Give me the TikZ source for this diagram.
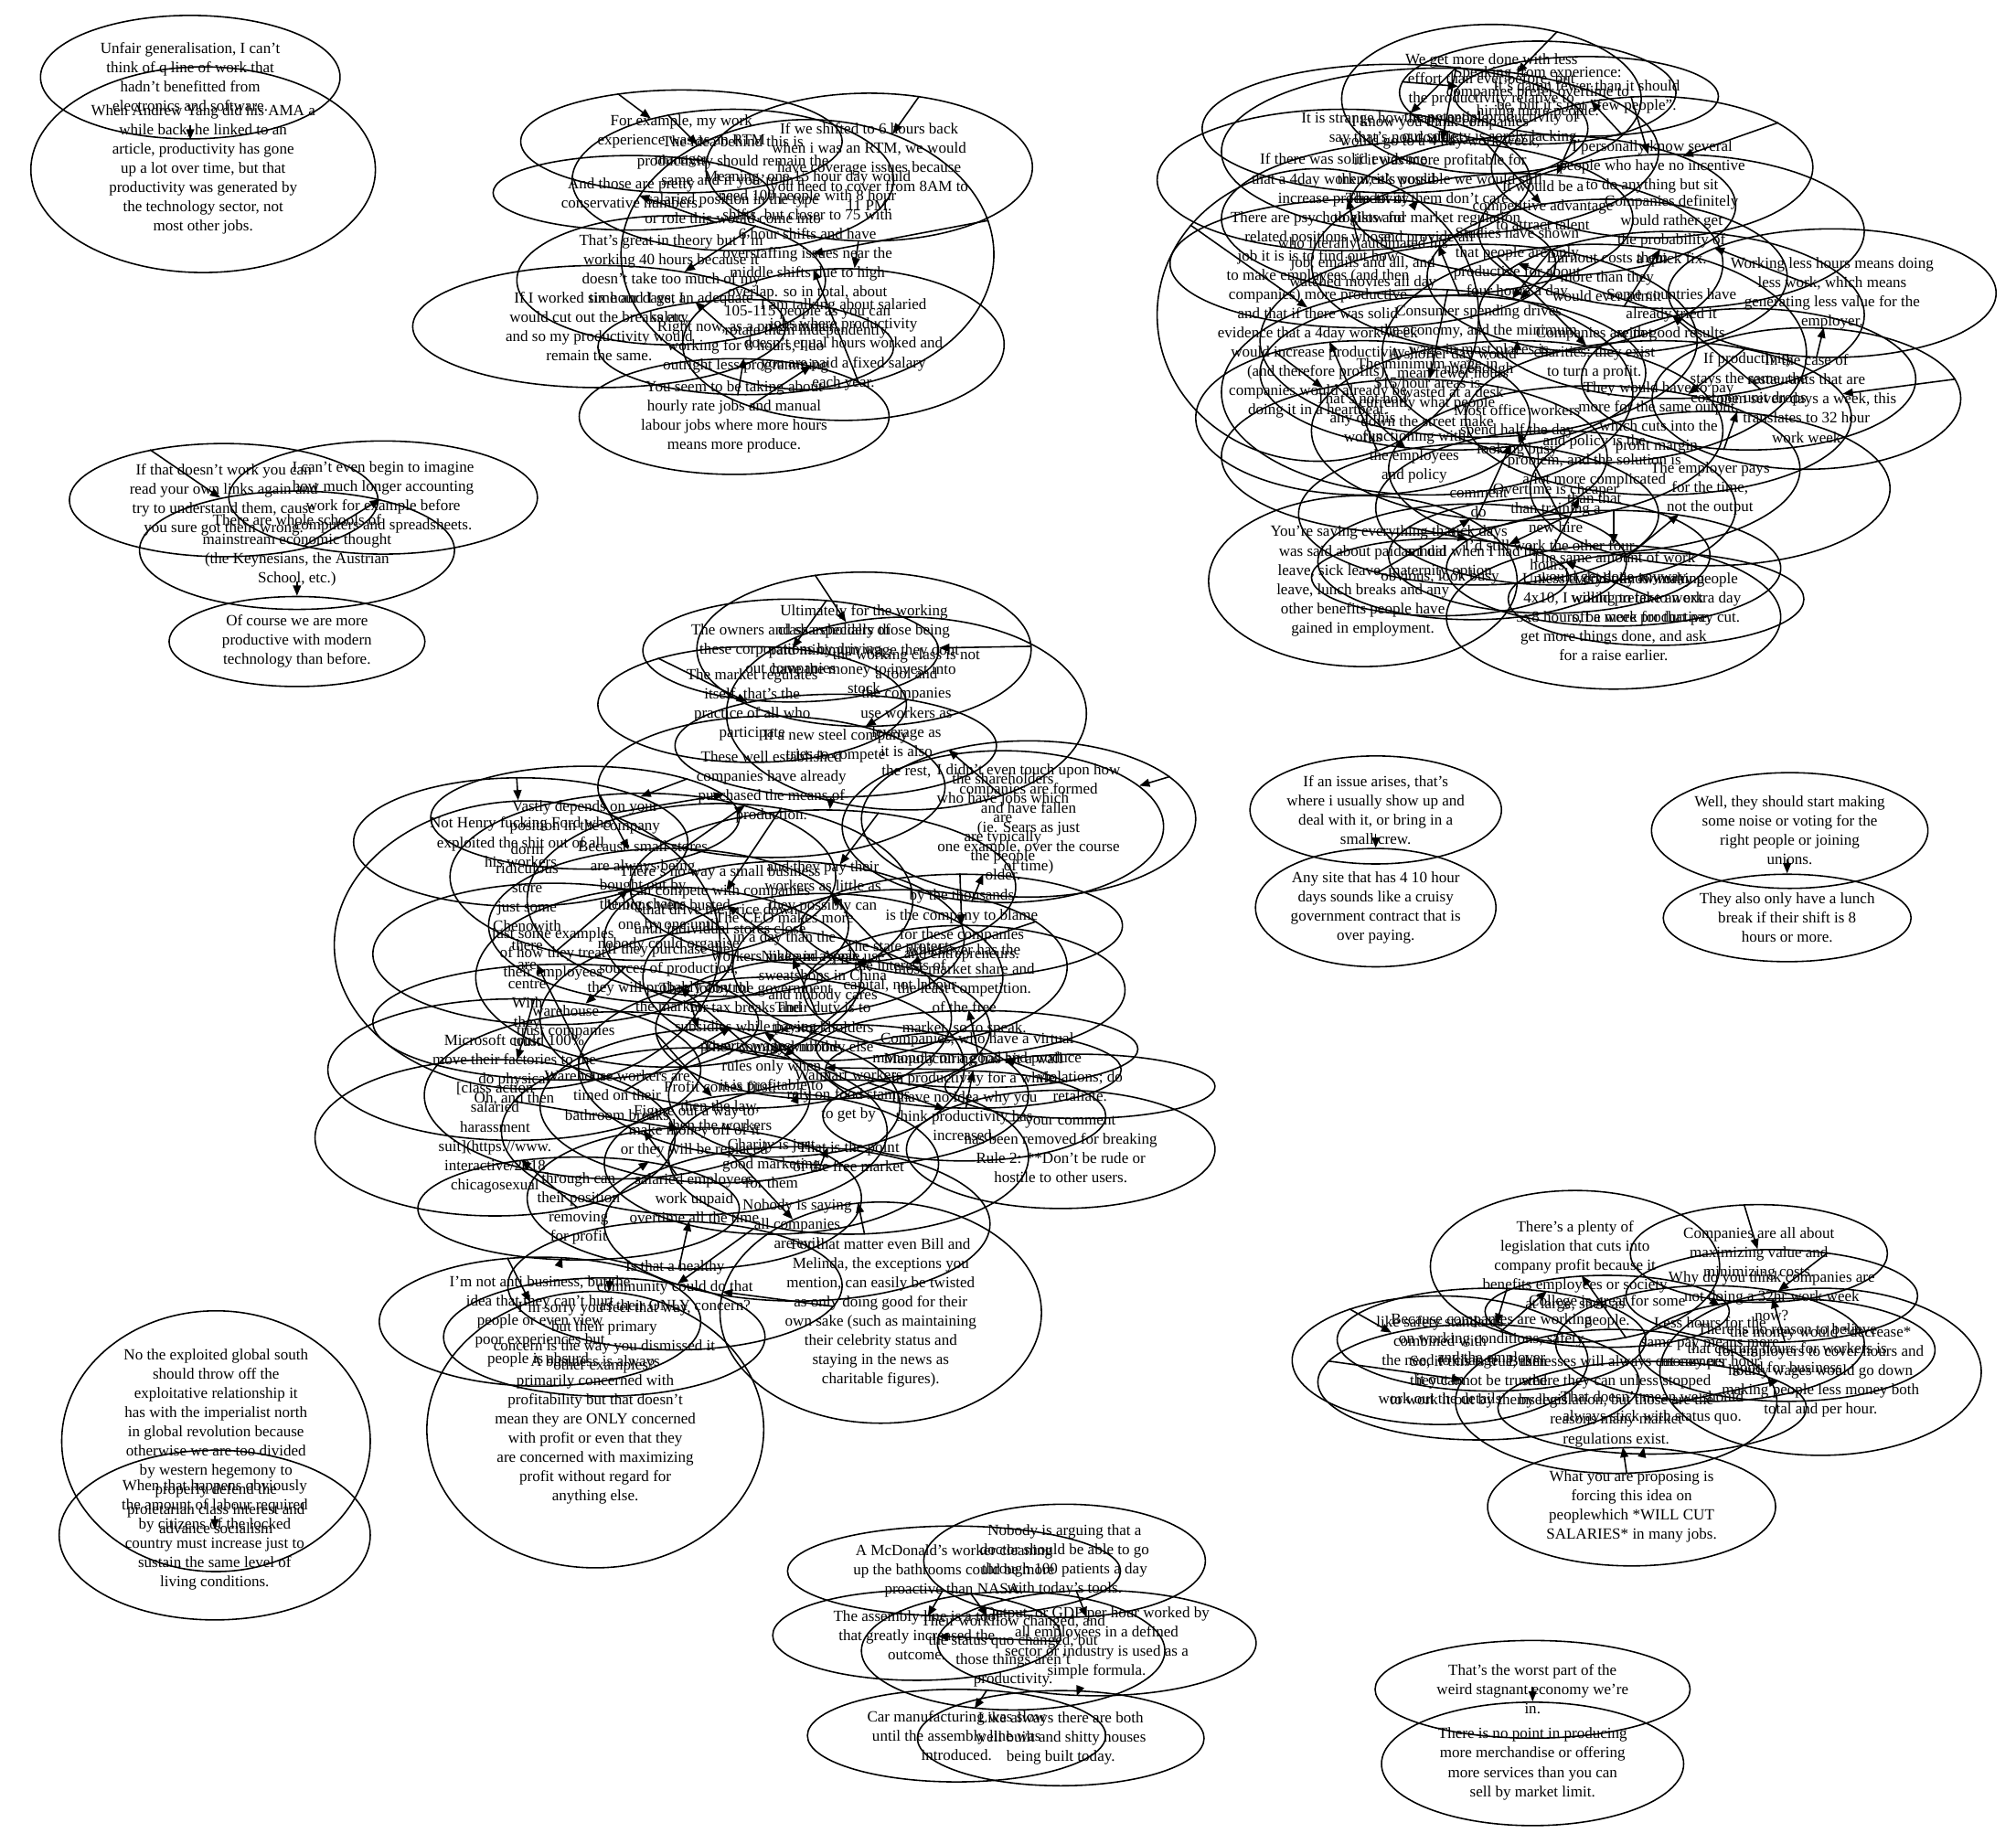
\documentclass[tikz,border=0pt]{standalone}
\usepackage{fontspec}
\setmainfont{Liberation Serif}
\usetikzlibrary{shapes.geometric, arrows.meta}
\newcommand{\postfont}{\fontsize{4.85}{6.0}\selectfont}
\tikzset{
  post/.style={draw, ellipse, inner sep=0pt, align=center, font=\postfont, line width=0.45pt},
  sz/.style 2 args={minimum width={#1*0.014062cm}, minimum height={#2*0.014062cm}},
  reply/.style={-{Triangle[length=3.2pt,width=2.5pt]}, line width=0.45pt},
}
\begin{document}
\begin{tikzpicture}[x=0.014062cm, y=-0.014062cm]
\path[use as bounding box, fill=white] (0,0) rectangle (1568,1434);

% top left
\node[post, sz={233}{96}] (unfair) at (148,60) {Unfair generalisation, I can't\\think of q line of work that\\hadn't benefitted from\\electronics and software.};
\node[post, sz={268}{160}] (yang) at (158,132) {When Andrew Yang did his AMA a\\while back, he linked to an\\article, productivity has gone\\up a lot over time, but that\\productivity was generated by\\the technology sector, not\\most other jobs.};
\draw[reply] ([yshift=4.5pt]unfair.south) -- (unfair.south);

% left middle
\node[post, sz={240}{88}] (cthat) at (174,389) {If that doesn't work you can\\read your own links again and\\try to understand them, cause\\you sure got them wrong.};
\node[post, sz={240}{88}] (dbegin) at (298,387) {I can't even begin to imagine\\how much longer accounting\\work for example before\\computers and spreadsheets.};
\node[post, sz={245}{92}] (eschools) at (231,428) {There are whole schools of\\mainstream economic thought\\(the Keynesians, the Austrian\\School, etc.)};
\node[post, sz={199}{70}] (fcourse) at (231,499) {Of course we are more\\productive with modern\\technology than before.};
\draw[reply] (cthat) -- (eschools);
\draw[reply] (dbegin) -- (eschools);
\draw[reply] ([yshift=4.5pt]fcourse.north) -- (fcourse.north);

% bottom left
\node[post, sz={240}{200}] (gsouth) at (168,1121) {No the exploited global south\\should throw off the\\exploitative relationship it\\has with the imperialist north\\in global revolution because\\otherwise we are too divided\\by western hegemony to\\properly defend the\\proletarian class interest and\\advance socialism};
\node[post, sz={242}{132}] (hlabour) at (167,1194) {When that happens obviously\\the amount of labour required\\by citizens of the locked\\country must increase just to\\sustain the same level of\\living conditions.};
\draw[reply] ([yshift=6pt]hlabour.center) -- ([yshift=1.8pt]hlabour.center);

% top middle
\node[post, sz={250}{80}] (fexample) at (530,110) {For example, my work\\experience was as an RTM\\manager};
\node[post, sz={254}{115}] (shifted) at (676,130) {If we shifted to 6 hours back\\when i was an RTM, we would\\have coverage issues because\\you need to cover from 8AM to\\11 PM.};
\node[post, sz={250}{110}] (idea) at (570,140) {The idea behind this is\\productivity should remain the\\same and if you're in a\\salaried position in the type\\or role this would come into};
\node[post, sz={290}{210}] (meaning) at (628,198) {Meaning, one 15 hour day would\\need 100 people with 8 hour\\shifts, but closer to 75 with\\6 hour shifts and have\\overstaffing issues near the\\middle shifts due to high\\overlap. so in total, about\\105-115 people as you can\\rotate them independently.};
\node[post, sz={215}{58}] (pretty) at (491,150) {And those are pretty\\conservative numbers.};
\node[post, sz={240}{92}] (theory) at (522,218) {That's great in theory but I'm\\working 40 hours because it\\doesn't take too much of my\\time and I get an adequate\\salary.};
\node[post, sz={290}{95}] (sixhour) at (466,254) {If I worked six hour days, I\\would cut out the breaks etc,\\and so my productivity would\\remain the same.};
\node[post, sz={230}{74}] (rightnow) at (580,270) {Right now, as a programmer\\working for 8 hours, I do\\outright less programming};
\node[post, sz={250}{118}] (salaried) at (656,268) {I am talking about salaried\\jobs where productivity\\doesn't equal hours worked and\\you are paid a fixed salary\\each year.};
\node[post, sz={241}{90}] (seem) at (571,324) {You seem to be taking about\\hourly rate jobs and manual\\labour jobs where more hours\\means more produce.};
\draw[reply] (fexample) -- (idea);
\draw[reply] (idea) -- (meaning);
\draw[reply] (shifted) -- (meaning);
\draw[reply] (pretty) -- (meaning);
\draw[reply] (meaning) -- (theory);
\draw[reply] (theory) -- (sixhour);
\draw[reply] (theory) -- (rightnow);
\draw[reply] (meaning) -- (salaried);
\draw[reply] (shifted) -- (salaried);
\draw[reply] (salaried) -- (seem);
\draw[reply] (rightnow) -- (seem);

% top right
\node[post, sz={233}{116}] (moredone) at (1160,77) {We get more done with less\\effort than ever before, but\\the productivity relative to\\the potential productivity of\\our society is sorely lacking.};
\node[post, sz={215}{80}] (speaking) at (1196,72) {Speaking from experience:\\companies prefer overtime to\\hiring more people.};
\node[post, sz={200}{62}] (damn) at (1234,75) {It's damn fewer than it should\\be, but it's not "few people".};
\node[post, sz={300}{100}] (strange) at (1085,100) {It is strange how many people\\say that's not doable.};
\node[post, sz={340}{130}] (knowyou) at (1120,118) {I know you think companies\\would go to a 4 day work week,\\if it was more profitable for\\them, it's possible we would still};
\node[post, sz={250}{110}] (several) at (1285,130) {I personally know several\\people who have no incentive\\to do anything but sit};
\node[post, sz={290}{110}] (evidence) at (1045,140) {If there was solid evidence\\that a 4day work week would\\increase productivity};
\node[post, sz={300}{110}] (advantage) at (1200,160) {It would be a\\competitive advantage\\to attract talent};
\node[post, sz={320}{120}] (lotof) at (1110,170) {The lot of them don't care\\to allow for market regulation\\and provide all};
\node[post, sz={300}{120}] (definitely) at (1300,180) {Companies definitely\\would rather get\\the probability of\\a quick fix.};
\node[post, sz={320}{140}] (studies) at (1180,205) {Studies have shown\\that people are only\\productive for about\\four hours a day};
\node[post, sz={300}{100}] (automated) at (1060,205) {who literally automated his\\job, emails and all, and\\watched movies all day};
\node[post, sz={280}{120}] (burnout) at (1250,215) {Burnout costs them\\more than they\\would ever admit};
\node[post, sz={250}{215}] (psych) at (1025,245) {There are psychologists and\\related positions whose\\job it is is to find out how\\to make employees (and then\\companies) more productive\\and that if there was solid\\evidence that a 4day work week\\would increase productivity\\(and therefore profits),\\companies would already be\\doing it in a heartbeat.};
\node[post, sz={255}{100}] (working) at (1425,228) {Working less hours means doing\\less work, which means\\generating less value for the\\employer.};
\node[post, sz={300}{130}] (countries) at (1300,245) {Some countries have\\already tried it\\with good results};
\node[post, sz={240}{110}] (caseof) at (1405,310) {In the case of\\restaurants that are\\open seven days a week, this\\translates to 32 hour\\work week};
\node[post, sz={340}{150}] (consumer) at (1150,265) {Consumer spending drives\\the economy, and the minimum\\wage in most places is\\not enough};
\node[post, sz={320}{160}] (minwage) at (1110,305) {The minimum wage in\\\$15/hour areas is\\currently what people\\down the street make};
\node[post, sz={330}{170}] (notcharity) at (1240,275) {Companies are not\\charities; they exist\\to turn a profit.};
\node[post, sz={260}{110}] (unitcost) at (1360,295) {If productivity\\stays the same, the\\cost per unit drops};
\node[post, sz={260}{120}] (nothow) at (1060,325) {That's not how\\any of this\\works};
\node[post, sz={300}{120}] (margin) at (1290,325) {They would have to pay\\more for the same output,\\which cuts into the\\profit margin.};
\node[post, sz={320}{140}] (officework) at (1180,335) {Most office workers\\spend half the day\\looking busy};
\node[post, sz={300}{120}] (shorterday) at (1130,290) {A shorter day would\\mean fewer hours\\wasted at a desk};
\node[post, sz={320}{130}] (policy) at (1240,365) {and policy is the\\problem, and the solution is\\a lot more complicated\\than that};
\node[post, sz={280}{120}] (paysfor) at (1330,380) {The employer pays\\for the time,\\not the output};
\node[post, sz={300}{120}] (functioning) at (1100,355) {functioning with\\the employees\\and policy};
\node[post, sz={280}{120}] (overtime) at (1210,395) {Overtime is cheaper\\than training a\\new hire};
\node[post, sz={280}{110}] (sickdays) at (1150,400) {comment\\do\\sick days};
\node[post, sz={240}{133}] (yousaying) at (1060,452) {You're saying everything that\\was said about paid annual\\leave, sick leave, maternity\\leave, lunch breaks and any\\other benefits people have\\gained in employment.};
\node[post, sz={240}{90}] (option) at (1145,437) {as I did when I had the\\option};
\node[post, sz={250}{90}] (fourhours) at (1205,432) {I'd still work the other four\\hours.};
\node[post, sz={260}{90}] (anyway) at (1255,442) {The same amount of work\\would get done anyway.};
\node[post, sz={200}{60}] (lookbusy) at (1120,449) {obvious, look busy};
\node[post, sz={260}{112}] (unless) at (1255,480) {Unless everybody is working\\4x10, I would prefer to work\\5x8 hours, be more productive,\\get more things done, and ask\\for a raise earlier.};
\node[post, sz={230}{72}] (dontknow) at (1288,466) {I don't know many people\\willing to take an extra day\\off a week for that pay cut.};
\draw[reply] (moredone) -- (knowyou);
\draw[reply] (speaking) -- (damn);
\draw[reply] (damn) -- (several);
\draw[reply] (strange) -- (evidence);
\draw[reply] (knowyou) -- (lotof);
\draw[reply] (several) -- (definitely);
\draw[reply] (several) -- (advantage);
\draw[reply] (evidence) -- (automated);
\draw[reply] (lotof) -- (consumer);
\draw[reply] (advantage) -- (studies);
\draw[reply] (advantage) -- (burnout);
\draw[reply] (definitely) -- (notcharity);
\draw[reply] (automated) -- (psych);
\draw[reply] (definitely) -- (working);
\draw[reply] (working) -- (caseof);
\draw[reply] (studies) -- (countries);
\draw[reply] (countries) -- (unitcost);
\draw[reply] (consumer) -- (minwage);
\draw[reply] (consumer) -- (shorterday);
\draw[reply] (notcharity) -- (margin);
\draw[reply] (margin) -- (policy);
\draw[reply] (unitcost) -- (paysfor);
\draw[reply] (minwage) -- (functioning);
\draw[reply] (nothow) -- (functioning);
\draw[reply] (studies) -- (officework);
\draw[reply] (officework) -- (sickdays);
\draw[reply] (officework) -- (overtime);
\draw[reply] (functioning) -- (sickdays);
\draw[reply] (sickdays) -- (yousaying);
\draw[reply] (policy) -- (fourhours);
\draw[reply] (fourhours) -- (anyway);
\draw[reply] (option) -- (lookbusy);
\draw[reply] (anyway) -- (unless);
\draw[reply] (fourhours) -- (dontknow);
\draw[reply] (caseof) -- (margin);
\draw[reply] (psych) -- (minwage);
\draw[reply] (psych) -- (nothow);
\draw[reply] (paysfor) -- (anyway);

% centre
\node[post, sz={260}{120}] (ultimately) at (672,505) {Ultimately for the working\\class especially those being\\paid minimum wage they dont\\have the money to invest into\\stock};
\node[post, sz={230}{80}] (owners) at (615,506) {The owners and shareholders of\\these corporations by driving\\out companies};
\node[post, sz={240}{90}] (market) at (585,548) {The market regulates\\itself, that's the\\practice of all who\\participate};
\node[post, sz={250}{80}] (steel) at (650,580) {If a new steel company\\tries to compete};
\node[post, sz={270}{110}] (established) at (600,612) {These well established\\companies have already\\purchased the means of\\production.};
\node[post, sz={280}{150}] (classnot) at (705,555) {the working class is not\\a fool and\\the companies\\use workers as\\leverage as\\it is also\\the rest,};
\node[post, sz={260}{120}] (touch) at (800,637) {I didn't even touch upon how\\companies are formed\\and have fallen\\(ie. Sears as just\\one example, over the course\\of time)};
\node[post, sz={250}{110}] (shareholders) at (780,643) {the shareholders\\who have jobs which\\are\\are typically\\the people\\older.};
\node[post, sz={240}{80}] (vastly) at (455,636) {Vastly depends on your\\position in the company};
\node[post, sz={260}{100}] (henry) at (405,655) {Not Henry fucking Ford who\\exploited the shit out of all\\his workers};
\node[post, sz={300}{130}] (smallstores) at (500,682) {Because small stores\\are always being\\bought out by\\the big chains};
\node[post, sz={300}{120}] (littleas) at (640,690) {and they pay their\\workers as little as\\they possibly can};
\node[post, sz={250}{80}] (thousands) at (748,720) {by the thousands\\is the company to blame\\for these companies\\and entrepreneurs.};
\node[post, sz={280}{110}] (examples) at (430,742) {just some examples\\of how they treat\\their employees};
\node[post, sz={260}{120}] (stateprotects) at (700,752) {The state protects\\the interests of\\capital, not labour};
\node[post, sz={250}{80}] (marketshare) at (750,770) {whichever has the\\most market share and\\the least competition.\\of the free\\market, so to speak.};
\node[post, sz={320}{140}] (lobby) at (580,792) {They lobby the government\\for tax breaks and\\subsidies while paying\\poverty wages};
\node[post, sz={280}{120}] (unions) at (520,720) {Unions were busted\\one by one until\\nobody could organise};
\node[post, sz={280}{120}] (ceo) at (610,730) {The CEO makes more\\in a day than the\\workers make in a year};
\node[post, sz={250}{60}] (monopoly) at (760,816) {Companies, who have a virtual\\monopoly on a good and produce};
\node[post, sz={210}{50}] (violations) at (840,845) {violations; do\\retaliate.};
\node[post, sz={230}{60}] (wall) at (757,832) {Manufacturing has hit a wall\\in productivity for a while};
\node[post, sz={280}{110}] (foodstamps) at (660,852) {Walmart workers\\rely on food stamps\\to get by};
\node[post, sz={300}{130}] (bathroom) at (480,852) {Warehouse workers are\\timed on their\\bathroom breaks};
\node[post, sz={280}{120}] (profitfirst) at (560,860) {Profit comes first,\\then the law,\\then the workers};
\node[post, sz={260}{110}] (stockholders) at (640,800) {Their duty is to\\the stockholders\\and nobody else};
\node[post, sz={220}{70}] (noidea) at (750,868) {I have no idea why you\\think productivity has\\increased.};
\node[post, sz={240}{92}] (removed) at (825,894) {— your comment\\has been removed for breaking\\Rule 2: **Don't be rude or\\hostile to other users.};
\node[post, sz={260}{110}] (unpaid) at (540,932) {salaried employees\\work unpaid\\overtime all the time};
\node[post, sz={260}{110}] (charity) at (600,905) {Charity is just\\good marketing\\for them};
\node[post, sz={300}{120}] (notevil) at (620,952) {Nobody is saying\\all companies\\are evil};
\node[post, sz={250}{172}] (bill) at (685,1021) {For that matter even Bill and\\Melinda, the exceptions you\\mention, can easily be twisted\\as only doing good for their\\own sake (such as maintaining\\their celebrity status and\\staying in the news as\\charitable figures).};
\node[post, sz={262}{215}] (business) at (463,1112) {A business is always\\primarily concerned with\\profitability but that doesn't\\mean they are ONLY concerned\\with profit or even that they\\are concerned with maximizing\\profit without regard for\\anything else.};
\node[post, sz={250}{92}] (antibusiness) at (420,1028) {I'm not anti business, but the\\idea that they can't hurt\\people or even view\\poor experiences but\\people is absurd.};
\node[post, sz={250}{92}] (sorry) at (470,1040) {I'm sorry you feel that way,\\but their primary\\concern is the way you dismissed it\\other examples?};
\node[post, sz={260}{100}] (healthy) at (525,1000) {Is that a healthy\\community could do that\\as their ONLY concern?};
\node[post, sz={290}{110}] (microsoft) at (400,832) {Microsoft could 100\%\\move their factories to the\\do physical\\Oh, and then};
\node[post, sz={280}{120}] (classaction) at (385,885) {[class action\\salaried\\harassment\\suit](https://www.\\interactive/2018\\chicagosexual};
\node[post, sz={300}{140}] (dorm) at (410,735) {dorm\\ridiculous\\store\\just some\\Chenowith\\there\\are\\centre\\With\\they\\trust};
\node[post, sz={300}{90}] (warehouse) at (440,795) {warehouse\\trust companies};
\node[post, sz={250}{80}] (through) at (450,940) {through can\\their position\\removing\\for profit};
\node[post, sz={300}{150}] (drive) at (560,700) {There's no way a small business\\can compete with companies\\that drive the price down\\until individual stores close};
\node[post, sz={300}{140}] (purchase) at (520,760) {If they purchase the\\sources of production,\\they will probably control\\the market};
\node[post, sz={300}{140}] (comply) at (600,830) {They comply with the\\rules only when\\it is profitable to};
\node[post, sz={300}{130}] (figure) at (540,880) {Figure out a way to\\make money off of it\\or they will be replaced};
\node[post, sz={280}{130}] (sweatshop) at (640,760) {Nike and Apple use\\sweatshops in China\\and nobody cares};
\node[post, sz={280}{120}] (freemarket) at (660,900) {That is the point\\of the free market};
\draw[reply] (ultimately) -- (owners);
\draw[reply] (owners) -- (market);
\draw[reply] (market) -- (steel);
\draw[reply] (steel) -- (established);
\draw[reply] (established) -- (vastly);
\draw[reply] (vastly) -- (henry);
\draw[reply] (henry) -- (dorm);
\draw[reply] (classnot) -- (touch);
\draw[reply] (touch) -- (shareholders);
\draw[reply] (ultimately) -- (classnot);
\draw[reply] (thousands) -- (marketshare);
\draw[reply] (marketshare) -- (monopoly);
\draw[reply] (monopoly) -- (violations);
\draw[reply] (wall) -- (noidea);
\draw[reply] (noidea) -- (removed);
\draw[reply] (drive) -- (purchase);
\draw[reply] (purchase) -- (comply);
\draw[reply] (comply) -- (figure);
\draw[reply] (figure) -- (through);
\draw[reply] (through) -- (antibusiness);
\draw[reply] (antibusiness) -- (business);
\draw[reply] (sorry) -- (business);
\draw[reply] (healthy) -- (bill);
\draw[reply] (freemarket) -- (bill);
\draw[reply] (microsoft) -- (classaction);
\draw[reply] (classaction) -- (through);
\draw[reply] (dorm) -- (warehouse);
\draw[reply] (warehouse) -- (microsoft);
\draw[reply] (sweatshop) -- (thousands);
\draw[reply] (shareholders) -- (thousands);
\draw[reply] (drive) -- (sweatshop);
\draw[reply] (comply) -- (wall);
\draw[reply] (figure) -- (freemarket);
\draw[reply] (healthy) -- (sorry);
\draw[reply] (established) -- (smallstores);
\draw[reply] (smallstores) -- (examples);
\draw[reply] (littleas) -- (stateprotects);
\draw[reply] (stateprotects) -- (lobby);
\draw[reply] (lobby) -- (bathroom);
\draw[reply] (lobby) -- (foodstamps);
\draw[reply] (foodstamps) -- (notevil);
\draw[reply] (bathroom) -- (unpaid);
\draw[reply] (unpaid) -- (healthy);
\draw[reply] (notevil) -- (bill);
\draw[reply] (steel) -- (littleas);
\draw[reply] (smallstores) -- (unions);
\draw[reply] (littleas) -- (ceo);
\draw[reply] (ceo) -- (stockholders);
\draw[reply] (unions) -- (profitfirst);
\draw[reply] (profitfirst) -- (charity);
\draw[reply] (stockholders) -- (charity);

% bottom middle
\node[post, sz={259}{70}] (mcd) at (742,1222) {A McDonald's worker cleaning\\up the bathrooms could be more\\proactive than NASA.};
\node[post, sz={219}{88}] (nobody) at (828,1214) {Nobody is arguing that a\\doctor should be able to go\\through 100 patients a day\\with today's tools.};
\node[post, sz={224}{70}] (assembly) at (713,1272) {The assembly line is a tool\\that greatly increased the\\outcome.};
\node[post, sz={236}{92}] (workflow) at (788,1284) {Their workflow changed, and\\the status quo changed, but\\those things aren't\\productivity.};
\node[post, sz={228}{82}] (output) at (853,1278) {Output, or GDP per hour worked by\\all employees in a defined\\sector or industry is used as a\\simple formula.};
\node[post, sz={232}{72}] (car) at (744,1350) {Car manufacturing was slow\\until the assembly line was\\introduced.};
\node[post, sz={223}{74}] (always) at (825,1352) {Like always there are both\\well built and shitty houses\\being built today.};
\draw[reply] (assembly) -- (mcd);
\draw[reply] (workflow) -- (mcd);
\draw[reply] (output) -- (nobody);
\draw[reply] (car) -- (workflow);
\draw[reply] (always) -- (output);
\draw[reply] (assembly) -- (output);

% right middle
\node[post, sz={172}{84}] (issue) at (1070,630) {If an issue arises, that's\\where i usually show up and\\deal with it, or bring in a\\small crew.};
\node[post, sz={164}{92}] (cruisy) at (1070,706) {Any site that has 4 10 hour\\days sounds like a cruisy\\government contract that is\\over paying.};
\draw[reply] ([yshift=4.5pt]cruisy.north) -- (cruisy.north);
\node[post, sz={215}{90}] (noise) at (1392,646) {Well, they should start making\\some noise or voting for the\\right people or joining\\unions.};
\node[post, sz={190}{68}] (lunch) at (1390,714) {They also only have a lunch\\break if their shift is 8\\hours or more.};
\draw[reply] ([yshift=4.5pt]lunch.north) -- (lunch.north);

% right
\node[post, sz={225}{118}] (plenty) at (1225,985) {There's a plenty of\\legislation that cuts into\\company profit because it\\benefits employees or society\\at large, such as};
\node[post, sz={200}{76}] (allabout) at (1368,975) {Companies are all about\\maximizing value and\\minimizing costs.};
\node[post, sz={190}{56}] (college) at (1250,1020) {College is great for some\\people.};
\node[post, sz={225}{72}] (whythink) at (1378,1008) {Why do you think companies are\\not doing a 32hr work week\\now?};
\node[post, sz={240}{80}] (becausecomp) at (1160,1042) {Because companies are working\\on working conditions, safety\\and the employer};
\node[post, sz={230}{100}] (likesafety) at (1120,1058) {like safety standards\\combined with\\the need to change\\it out in\\work out the details};
\node[post, sz={250}{90}] (sotrue) at (1150,1075) {So, if this is true, then\\they cannot be trusted\\to work it out by themselves};
\node[post, sz={240}{90}] (perhour) at (1330,1045) {Less hours for the\\same pay means more\\money per hour};
\node[post, sz={230}{80}] (noreason) at (1390,1050) {There is no reason to believe\\that cutting hours for workers is\\good for business};
\node[post, sz={250}{130}] (decrease) at (1416,1067) {the money would *decrease*\\for employers to cover hours and\\hourly wages would go down\\making people less money both\\total and per hour.};
\node[post, sz={240}{72}] (statusquo) at (1285,1095) {That doesn't mean we should\\always stick with status quo.};
\node[post, sz={250}{112}] (regulations) at (1257,1090) {Businesses will always cut corners\\where they can unless stopped\\by legislation, but those are the\\reasons many market\\regulations exist.};
\node[post, sz={224}{92}] (proposing) at (1269,1172) {What you are proposing is\\forcing this idea on\\peoplewhich *WILL CUT\\SALARIES* in many jobs.};
\draw[reply] (plenty) -- (college);
\draw[reply] (allabout) -- (whythink);
\draw[reply] (whythink) -- (noreason);
\draw[reply] (plenty) -- (becausecomp);
\draw[reply] (becausecomp) -- (sotrue);
\draw[reply] (likesafety) -- (sotrue);
\draw[reply] (noreason) -- (decrease);
\draw[reply] (whythink) -- (perhour);
\draw[reply] (sotrue) -- (regulations);
\draw[reply] (decrease) -- (statusquo);
\draw[reply] (regulations) -- (proposing);
\draw[reply] (statusquo) -- (proposing);

% bottom right
\node[post, sz={245}{76}] (worst) at (1192,1314) {That's the worst part of the\\weird stagnant economy we're\\in.};
\node[post, sz={235}{96}] (nopoint) at (1192,1372) {There is no point in producing\\more merchandise or offering\\more services than you can\\sell by market limit.};
\draw[reply] ([yshift=4.5pt]nopoint.north) -- (nopoint.north);
\end{tikzpicture}
\end{document}
